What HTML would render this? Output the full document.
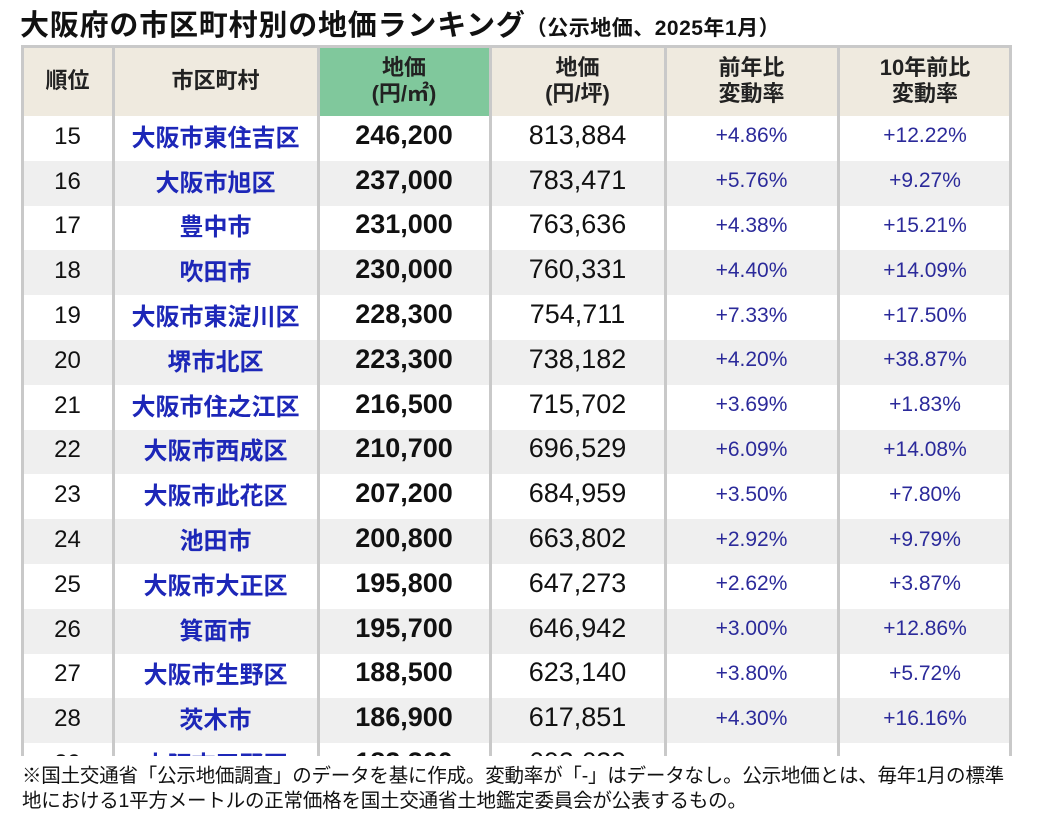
<!DOCTYPE html>
<html><head><meta charset="utf-8"><style>
body{margin:0;width:1054px;height:826px;overflow:hidden;background:#fff;font-family:"Liberation Sans","Noto Sans CJK JP",sans-serif;position:relative}
#title{position:absolute;left:20px;top:2px;font-size:29px;font-weight:bold;color:#111;white-space:nowrap;letter-spacing:0.8px}
#title span{font-size:21px;letter-spacing:0.5px}
.c{position:absolute;display:flex;align-items:center;justify-content:center;text-align:center;box-sizing:border-box;white-space:nowrap}
.h{font-weight:bold;font-size:22px;line-height:26px;color:#222}
.vl{position:absolute;width:3px;background:#c9c9c9;top:46px;height:712px}
#foot{position:absolute;left:0;top:756px;width:1054px;height:70px;background:#fff}
#foot div{position:absolute;left:22px;font-size:19.5px;color:#111;white-space:nowrap;letter-spacing:-0.2px}
</style></head><body>
<div id="title">大阪府の市区町村別の地価ランキング<span>（公示地価、2025年1月）</span></div>
<div id="table"></div>
<div id="foot">
<div style="top:3px">※国土交通省「公示地価調査」のデータを基に作成。変動率が「-」はデータなし。公示地価とは、毎年1月の標準</div>
<div style="top:28px">地における1平方メートルの正常価格を国土交通省土地鑑定委員会が公表するもの。</div>
</div>
<script>
const ranks=[15,16,17,18,19,20,21,22,23,24,25,26,27,28,29];
const names=["大阪市東住吉区","大阪市旭区","豊中市","吹田市","大阪市東淀川区","堺市北区","大阪市住之江区","大阪市西成区","大阪市此花区","池田市","大阪市大正区","箕面市","大阪市生野区","茨木市","大阪市平野区"];
const perM2=["246,200","237,000","231,000","230,000","228,300","223,300","216,500","210,700","207,200","200,800","195,800","195,700","188,500","186,900","182,300"];
const perTsubo=["813,884","783,471","763,636","760,331","754,711","738,182","715,702","696,529","684,959","663,802","647,273","646,942","623,140","617,851","602,639"];
const yoy=["+4.86%","+5.76%","+4.38%","+4.40%","+7.33%","+4.20%","+3.69%","+6.09%","+3.50%","+2.92%","+2.62%","+3.00%","+3.80%","+4.30%",""];
const tenYr=["+12.22%","+9.27%","+15.21%","+14.09%","+17.50%","+38.87%","+1.83%","+14.08%","+7.80%","+9.79%","+3.87%","+12.86%","+5.72%","+16.16%",""];
const headers=["順位","市区町村","地価<br>(円/㎡)","地価<br>(円/坪)","前年比<br>変動率","10年前比<br>変動率"];
const colX=[22,113,318,490,665,838,1012];
const T=document.getElementById('table');
const hTop=46,hBot=114,rh=44.8;
function add(html,x,y,w,h,cls,style,name){
 const d=document.createElement('div');
 d.className='c '+cls;d.innerHTML=html;
 d.style.cssText=`left:${x}px;top:${y}px;width:${w}px;height:${h}px;`+style;
 
 
 T.appendChild(d);return d;
}
headers.forEach((t,i)=>{
 add(t,colX[i],hTop,colX[i+1]-colX[i],hBot-hTop+2,'h','background:'+(i==2?'#80c89c':'#efeadf'),'header-cell');
});
ranks.forEach((r,j)=>{
 const y=hBot+2+j*rh;
 const bg=j%2?'#efefef':'#fff';
 add('',colX[0],y,colX[6]-colX[0],rh,'','background:'+bg,'table-row');
 const vals=[r,names[j],perM2[j],perTsubo[j],yoy[j],tenYr[j]];
 const st=['font-size:24px;color:#111;padding-top:3px','font-size:24px;font-weight:bold;color:#1d27b8','font-size:27px;font-weight:bold;color:#111','font-size:27px;color:#111','font-size:21px;color:#2b2a9a;padding-top:2px','font-size:21px;color:#2b2a9a;padding-top:2px'];
 const nm=['rank-cell','municipality-cell','price-per-m2-cell','price-per-tsubo-cell','yoy-change-cell','ten-year-change-cell'];
 vals.forEach((v,i)=>add(String(v),colX[i],y-3,colX[i+1]-colX[i],rh,'',st[i],nm[i]));
});
colX.forEach((x,i)=>{
 const l=document.createElement('div');l.className='vl';
 l.style.left=(i==6?x-3:x-1)+'px';
 
 
 T.appendChild(l);
});
const tl=document.createElement('div');
tl.style.cssText='position:absolute;left:21px;top:45px;width:991px;height:3px;background:#c9c9c9';


T.appendChild(tl);
</script>
</body></html>
